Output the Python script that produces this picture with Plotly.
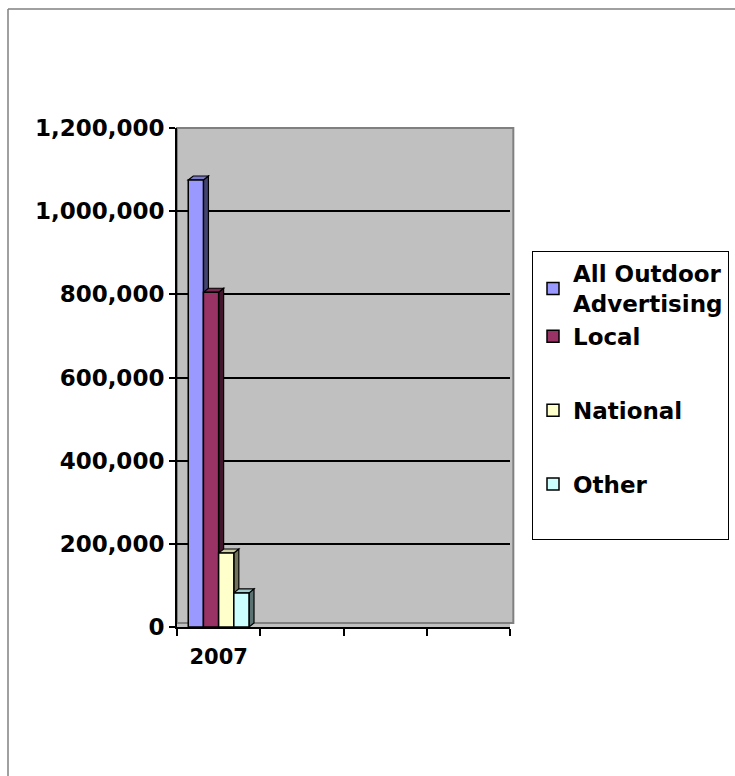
import plotly.graph_objects as go

# ---- data ----
categories = ["2007"]
series_names = ["All Outdoor<br>Advertising", "Local", "National", "Other"]
series_values = [
    [1075000],
    [805000],
    [178000],
    [82000],
]
series_colors = ["#9999FF", "#993366", "#FFFFCC", "#CCFFFF"]
legend_groups = ["g0", "g0", "g1", "g2"]
y_tick_vals = [0, 200000, 400000, 600000, 800000, 1000000, 1200000]

# ---- layout constants ----
W, H = 735, 776
ML, MR, MT, MB = 177, 225, 128, 149
PW, PH = W - ML - MR, H - MT - MB
N_SLOTS = 4
X_RANGE = [-0.5, N_SLOTS - 0.5]
Y_RANGE = [0, 1200000]
BARGAP = 0.27
DEPTH_PX_X, DEPTH_PX_Y = 5, 4
FONT = dict(family="DejaVu Sans", size=23, color="black", weight="bold")


def shade(hex_color, f):
    h = hex_color.lstrip("#")
    r, g, b = (int(h[i:i + 2], 16) for i in (0, 2, 4))
    return "#%02x%02x%02x" % (int(r * f), int(g * f), int(b * f))


n = len(series_names)
bar_w = (1 - BARGAP) / n
dxd = DEPTH_PX_X * (X_RANGE[1] - X_RANGE[0]) / PW
dyd = DEPTH_PX_Y * (Y_RANGE[1] - Y_RANGE[0]) / PH

fig = go.Figure()
shapes = [dict(type="rect", xref="paper", yref="paper", x0=0, x1=1.01, y0=0.008, y1=1.0,
               layer="below", fillcolor="#C0C0C0", line=dict(color="#808080", width=2))]
for i, (name, vals, col, grp) in enumerate(zip(series_names, series_values, series_colors, legend_groups)):
    off = -n * bar_w / 2 + i * bar_w
    xs = list(range(len(categories)))
    fig.add_trace(go.Bar(
        x=xs, y=vals, name=name, width=bar_w, offset=off,
        marker=dict(color=col, line=dict(color="black", width=1.5)),
        legendgroup=grp,
    ))
    for xc, v in zip(xs, vals):
        xl, xr = xc + off, xc + off + bar_w
        # side face
        shapes.append(dict(
            type="path", xref="x", yref="y", layer="between",
            path=f"M {xr},0 L {xr + dxd},{dyd} L {xr + dxd},{v + dyd} L {xr},{v} Z",
            fillcolor=shade(col, 0.45), line=dict(color="black", width=1.2)))
        # top face
        shapes.append(dict(
            type="path", xref="x", yref="y", layer="between",
            path=f"M {xl},{v} L {xl + dxd},{v + dyd} L {xr + dxd},{v + dyd} L {xr},{v} Z",
            fillcolor=shade(col, 0.8), line=dict(color="black", width=1.2)))

# invisible spacer entry so the legend box keeps its tall bottom margin
fig.add_trace(go.Bar(
    x=[None], y=[None], name=" ", legendgroup=legend_groups[-1], hoverinfo="skip",
    marker=dict(color="rgba(0,0,0,0)", line=dict(width=0)),
))

# outer chart frame (top and left edges visible)
frame_l = (8 - ML) / PW
frame_t = (H - MB - 9) / PH
shapes.append(dict(type="line", xref="paper", yref="paper", x0=frame_l, x1=(W - ML) / PW,
                   y0=frame_t, y1=frame_t, line=dict(color="#808080", width=1.5)))
shapes.append(dict(type="line", xref="paper", yref="paper", x0=frame_l, x1=frame_l,
                   y0=frame_t, y1=-MB / PH, line=dict(color="#808080", width=1.5)))

boundaries = [X_RANGE[0] + k for k in range(N_SLOTS + 1)]

fig.update_layout(
    width=W, height=H,
    margin=dict(l=ML, r=MR, t=MT, b=MB, autoexpand=False),
    paper_bgcolor="white", plot_bgcolor="#C0C0C0",
    font=FONT,
    barmode="group", bargap=BARGAP, bargroupgap=0,
    shapes=shapes,
    showlegend=True,
    legend=dict(
        x=(532 - ML) / PW, xanchor="left",
        y=(H - MB - 251) / PH, yanchor="top",
        bgcolor="white", bordercolor="black", borderwidth=1,
        tracegroupgap=41, traceorder="grouped",
        font=FONT,
    ),
    xaxis=dict(
        range=X_RANGE, tickvals=list(range(len(categories))), ticktext=categories,
        ticks="", showgrid=False, zeroline=False,
        showline=True, linecolor="black", linewidth=2,
        ticklabelstandoff=10,
        tickfont=dict(family="DejaVu Sans", size=21, weight="bold"),
        minor=dict(tickvals=boundaries, ticks="outside", ticklen=7, tickwidth=2,
                   tickcolor="black", showgrid=False),
    ),
    yaxis=dict(
        range=Y_RANGE, tickvals=y_tick_vals, tickformat=",",
        ticks="outside", ticklen=6, tickwidth=2, tickcolor="black",
        showline=True, linecolor="black", linewidth=2,
        showgrid=True, gridcolor="black", gridwidth=1.5, zeroline=False,
        tickfont=FONT,
    ),
)

fig.write_html("out.html")
